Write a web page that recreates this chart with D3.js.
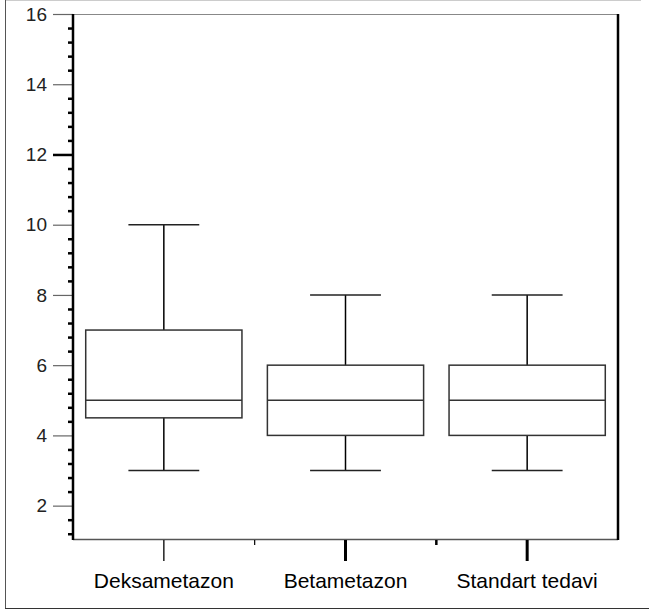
<!DOCTYPE html>
<html>
<head>
<meta charset="utf-8">
<script src="https://cdn.jsdelivr.net/npm/d3@7"></script>
<style>
  body { margin: 0; background: #fff; }
  svg { display: block; font-family: 'Liberation Sans', Arial, sans-serif; }
</style>
</head>
<body>
<svg></svg>
<script>
// Data
const categories = ['Deksametazon', 'Betametazon', 'Standart tedavi'];
const mins = [3, 3, 3];
const q1s = [4.5, 4, 4];
const medians = [5, 5, 5];
const q3s = [7, 6, 6];
const maxs = [10, 8, 8];
const yTicks = [2, 4, 6, 8, 10, 12, 14, 16];

// Constants
const width = 649;
const height = 612;
const plotLeft = 73;
const plotRight = 618;
const plotTop = 14;
const plotBottom = 539;

const svg = d3.select('svg')
    .attr('width', width)
    .attr('height', height);

// outer frame
svg.append('line').attr('x1', 5).attr('x2', 641).attr('y1', 0.5).attr('y2', 0.5)
    .attr('stroke', '#ccc');
svg.append('line').attr('x1', 5.5).attr('x2', 5.5).attr('y1', 0).attr('y2', 608)
    .attr('stroke', '#555');
svg.append('line').attr('x1', 5).attr('x2', 649).attr('y1', 608.5).attr('y2', 608.5)
    .attr('stroke', '#333');

// scales
const x = d3.scaleBand()
    .domain(categories)
    .range([plotLeft, plotRight]);

const y = d3.scaleLinear()
    .domain([1.05, 16])
    .range([plotBottom, plotTop]);

// plot frame
svg.append('line').attr('x1', plotLeft).attr('x2', plotRight).attr('y1', plotTop + 0.5).attr('y2', plotTop + 0.5)
    .attr('stroke', '#888');
svg.append('line').attr('x1', plotLeft).attr('x2', plotRight).attr('y1', plotBottom + 0.5).attr('y2', plotBottom + 0.5)
    .attr('stroke', '#555').attr('stroke-width', 1.5);
svg.append('line').attr('x1', plotRight).attr('x2', plotRight).attr('y1', plotTop).attr('y2', plotBottom + 1)
    .attr('stroke', '#000').attr('stroke-width', 2.5);

// minor y ticks
const minor = d3.range(1.2, 16, 0.4).filter(v => Math.abs(v / 2 - Math.round(v / 2)) > 0.01);
svg.append('g')
    .attr('transform', `translate(${plotLeft}, 0)`)
    .call(d3.axisLeft(y).tickValues(minor).tickSize(5).tickFormat(''))
    .call(g => g.select('.domain').remove())
    .call(g => g.selectAll('.tick line').attr('stroke', '#000').attr('stroke-width', 2.5));

// major y ticks
svg.append('g')
    .attr('id', 'y-axis')
    .attr('transform', `translate(${plotLeft}, 0)`)
    .call(d3.axisLeft(y).tickValues(yTicks).tickSize(20).tickPadding(6).tickFormat(d => String(d)))
    .call(g => g.select('.domain').remove())
    .call(g => g.selectAll('.tick line')
        .attr('stroke', d => d === 12 ? '#000' : '#666')
        .attr('stroke-width', d => d === 12 ? 2.5 : 1.2))
    .call(g => g.selectAll('.tick text')
        .attr('fill', '#222')
        .attr('font-size', 19)
        .attr('font-family', "'Liberation Sans', Arial, sans-serif"));

// y axis line
svg.append('line').attr('x1', plotLeft).attr('x2', plotLeft).attr('y1', plotTop).attr('y2', plotBottom + 1)
    .attr('stroke', '#000').attr('stroke-width', 2.5);

// x axis ticks
const xAxis = svg.append('g').attr('id', 'x-axis');
xAxis.selectAll('line.cat')
    .data(categories).enter().append('line')
    .attr('class', 'cat')
    .attr('x1', d => x(d) + x.bandwidth() / 2)
    .attr('x2', d => x(d) + x.bandwidth() / 2)
    .attr('y1', plotBottom + 1)
    .attr('y2', plotBottom + 22)
    .attr('stroke', (d, i) => i === 0 ? '#222' : '#000')
    .attr('stroke-width', (d, i) => i === 0 ? 1.5 : 3);

xAxis.selectAll('line.sep')
    .data(categories.slice(1)).enter().append('line')
    .attr('class', 'sep')
    .attr('x1', d => x(d))
    .attr('x2', d => x(d))
    .attr('y1', plotBottom + 1)
    .attr('y2', plotBottom + 6)
    .attr('stroke', '#000')
    .attr('stroke-width', (d, i) => i === 0 ? 1.2 : 2.5);

xAxis.selectAll('text')
    .data(categories).enter().append('text')
    .attr('x', d => x(d) + x.bandwidth() / 2)
    .attr('y', 588)
    .attr('text-anchor', 'middle')
    .attr('font-size', 21)
    .attr('fill', '#000')
    .text(d => d);

// boxes
const boxW = x.bandwidth() * 0.86;
const capW = x.bandwidth() * 0.39;

const boxes = svg.selectAll('g.box')
    .data(categories).enter().append('g')
    .attr('class', 'box')
    .attr('transform', d => `translate(${x(d) + x.bandwidth() / 2}, 0)`);

// whiskers
boxes.append('line')
    .attr('x1', 0).attr('x2', 0)
    .attr('y1', (d, i) => y(maxs[i]))
    .attr('y2', (d, i) => y(q3s[i]))
    .attr('stroke', '#000').attr('stroke-width', 1.5);
boxes.append('line')
    .attr('x1', 0).attr('x2', 0)
    .attr('y1', (d, i) => y(q1s[i]))
    .attr('y2', (d, i) => y(mins[i]))
    .attr('stroke', '#000').attr('stroke-width', 1.5);

// caps
boxes.append('line')
    .attr('x1', -capW / 2).attr('x2', capW / 2)
    .attr('y1', (d, i) => y(maxs[i])).attr('y2', (d, i) => y(maxs[i]))
    .attr('stroke', '#222').attr('stroke-width', 1.5);
boxes.append('line')
    .attr('x1', -capW / 2).attr('x2', capW / 2)
    .attr('y1', (d, i) => y(mins[i])).attr('y2', (d, i) => y(mins[i]))
    .attr('stroke', '#222').attr('stroke-width', 1.5);

// box
boxes.append('rect')
    .attr('x', -boxW / 2)
    .attr('width', boxW)
    .attr('y', (d, i) => y(q3s[i]))
    .attr('height', (d, i) => y(q1s[i]) - y(q3s[i]))
    .attr('fill', 'none')
    .attr('stroke', '#333')
    .attr('stroke-width', 1.5);

// median
boxes.append('line')
    .attr('x1', -boxW / 2).attr('x2', boxW / 2)
    .attr('y1', (d, i) => y(medians[i])).attr('y2', (d, i) => y(medians[i]))
    .attr('stroke', '#333').attr('stroke-width', 1.5);
</script>
</body>
</html>
